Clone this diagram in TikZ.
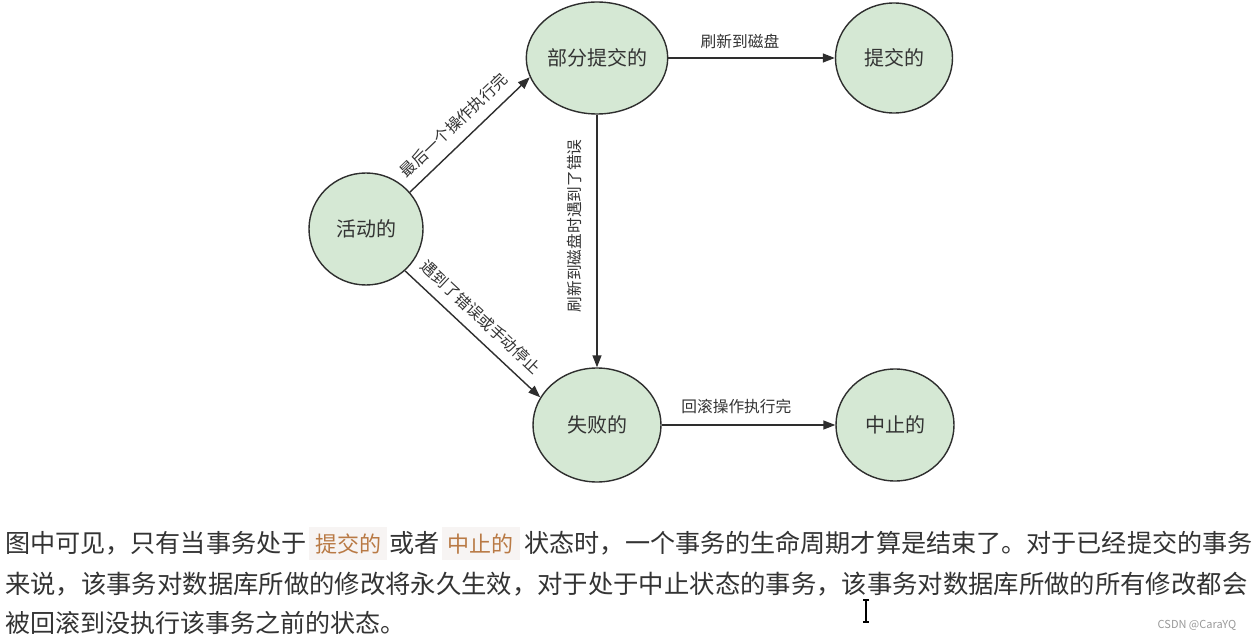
\documentclass[tikz,border=0pt]{standalone}
\usepackage{fontspec}
\setmainfont{Noto Sans CJK SC}
\usetikzlibrary{arrows.meta,shapes.geometric}
\definecolor{stfill}{HTML}{D5E8D4}
\definecolor{stline}{HTML}{2E2E2E}
\definecolor{txt}{HTML}{333333}
\definecolor{hltext}{HTML}{B97A45}
\definecolor{hlback}{HTML}{F7F4F3}
\newcommand{\hlword}[1]{{\setlength{\fboxsep}{6pt}\colorbox{hlback}{\color{hltext}\fontsize{22}{22}\selectfont #1}}}

\begin{document}
\begin{tikzpicture}[x=1pt,y=-1pt]
			\tikzstyle{es} = [-{Triangle[length=12pt,width=9pt]}, line width=1.4pt, draw=stline]
			\tikzstyle{st} = [ellipse, draw=stline, line width=1.4pt, fill=stfill, inner sep=0pt, text=txt, font=\fontsize{20}{20}\selectfont]
			\tikzstyle{lbl} = [inner sep=0pt, text=txt, font=\fontsize{15.7}{15.7}\selectfont]
			\tikzstyle{para} = [anchor=base west, inner sep=0pt, text=txt, font=\fontsize{25}{25}\selectfont]
			\fill [white] (0,0) rectangle (1258,639);
			\useasboundingbox (0,0) rectangle (1258,639);
			\node [st, minimum width=114pt, minimum height=112pt] (act) at (366,229) {活动的};
			\node [st, minimum width=128pt, minimum height=112pt] (part) at (597,58) {部分提交的};
			\node [st, minimum width=117pt, minimum height=110pt] (comm) at (894,58) {提交的};
			\node [st, minimum width=128pt, minimum height=114pt] (fail) at (597,425) {失败的};
			\node [st, minimum width=118pt, minimum height=112pt] (abort) at (895,425) {中止的};
			\draw (act.40) edge [es] node [lbl, sloped, above=10pt, pos=.47] {最后一个操作执行完} (part.196);
			\draw (act.-47) edge [es] node [lbl, sloped, above=10pt, pos=.47] {遇到了错误或手动停止} (fail.154);
			\draw (part.south) edge [es] node [lbl, pos=.44, xshift=-15pt, rotate=90, anchor=south] {刷新到磁盘时遇到了错误} (fail.north);
			\draw (part.east) edge [es] node [lbl, above=9pt, pos=.43] {刷新到磁盘} (comm.west);
			\draw (fail.east) edge [es] node [lbl, above=10pt, pos=.43] {回滚操作执行完} (abort.west);
			\node [para, font=\fontsize{25.1}{25.1}\selectfont] (t1) at (5,552) {图中可见，只有当事务处于\hspace{3pt}\hlword{提交的}\hspace{2pt}或者\hspace{2pt}\hlword{中止的}\hspace{5pt}状态时，一个事务的生命周期才算是结束了。对于已经提交的事务};
			\node [para, font=\fontsize{25.35}{25.35}\selectfont] (t2) at (5,593) {来说，该事务对数据库所做的修改将永久生效，对于处于中止状态的事务，该事务对数据库所做的所有修改都会};
			\node [para] (t3) at (5,632) {被回滚到没执行该事务之前的状态。};
			\node [text=black!40, inner sep=0pt, font=\fontsize{11}{11}\selectfont] (wm) at (1197,625) {CSDN @CaraYQ};
			\draw [line width=1.3pt] (866,600) -- (866,622) (863,600) -- (869,600) (863,622) -- (869,622);
		\end{tikzpicture}
\end{document}
